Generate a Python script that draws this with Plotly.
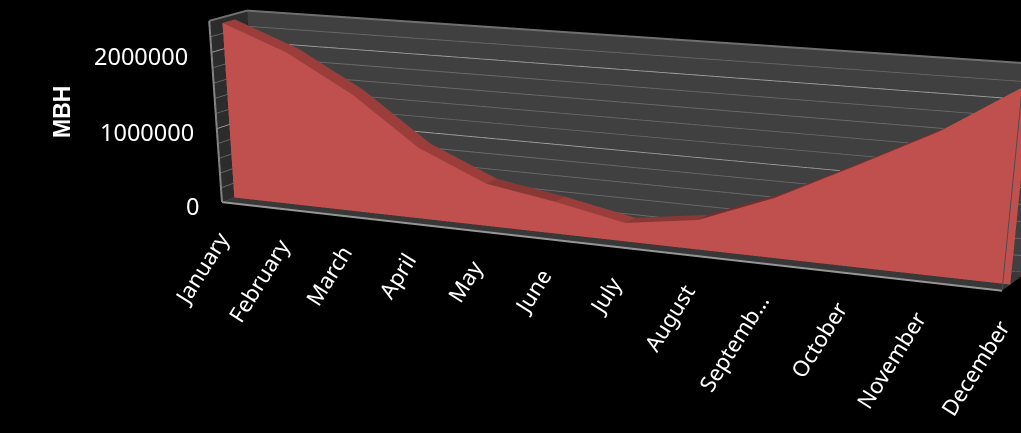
import plotly.graph_objects as go

# Monthly load, drawn as a 3-D area ribbon over Jan-Dec.
months = ["January", "February", "March", "April", "May", "June", "July",
          "August", "Septemb…", "October", "November", "December"]
mbh = [2330000, 2010000, 1540000, 925000, 550000, 410000, 235000,
       370000, 735000, 1205000, 1690000, 2300000]
value_ticks = [0, 1000000, 2000000]
axis_max = 2400000
grid_step = 200000

# Depth layout of the plot box: the ribbon sits in the middle third.
RIBBON_FRONT, RIBBON_BACK = 1 / 3, 2 / 3
last = len(months) - 1

# An oversized scene gives a long-lens view with an off-centre optical axis;
# the page is slid left by PAGE_SHIFT and the window shows the part it needs.
SCENE_W, SCENE_H = 1204, 1918
PAGE_SHIFT = 183

fig = go.Figure()
FLAT = dict(ambient=1, diffuse=0, specular=0, fresnel=0, roughness=1)


def panel(xs, ys, zs, color):
    fig.add_trace(go.Mesh3d(
        x=xs, y=ys, z=zs, i=[0, 0], j=[1, 2], k=[2, 3], color=color,
        flatshading=True, hoverinfo="skip", lighting=FLAT))


def segment(xs, ys, zs, color, width):
    fig.add_trace(go.Scatter3d(
        x=xs, y=ys, z=zs, mode="lines", hoverinfo="skip", showlegend=False,
        line=dict(color=color, width=width)))


# Walls and floor of the plot box
panel([0, last, last, 0], [1, 1, 1, 1], [0, 0, axis_max, axis_max], "#404040")
panel([0, 0, 0, 0], [0, 1, 1, 0], [0, 0, axis_max, axis_max], "#2c2c2c")
panel([0, last, last, 0], [0, 0, 1, 1], [0, 0, 0, 0], "#383838")

# Value gridlines along the back and side walls; whole millions are brighter
for level in range(0, axis_max + 1, grid_step):
    color = "#a8a8a8" if level in value_ticks else "#6c6c6c"
    segment([0, 0, last], [0, 1, 1], [level] * 3, color, 3)

# Frame edges
segment([0, 0], [0, 0], [0, axis_max], "#858585", 4)
segment([0, last], [0, 0], [0, 0], "#959595", 4)
segment([0, 0], [0, 1], [axis_max, axis_max], "#6f6f6f", 4)
segment([0, last], [1, 1], [axis_max, axis_max], "#6f6f6f", 4)
segment([0, 0], [0, 1], [0, 0], "#6f6f6f", 3)
segment([last, last], [0, 0], [0, axis_max], "#4d4d4d", 2)

# Ribbon: front face plus the sloped top strip
n = len(months)
tri_i, tri_j, tri_k, strip_colors = [], [], [], []
for m in range(n - 1):
    tri_i += [m, m + 1]
    tri_j += [m + 1, n + m + 1]
    tri_k += [n + m, n + m]
    change = mbh[m + 1] - mbh[m]
    shade = "#9A3D3B" if change < -150000 else "#8A3836" if change < 150000 else "#752F2F"
    strip_colors += [shade, shade]

fig.add_trace(go.Mesh3d(
    x=list(range(n)) * 2, y=[RIBBON_FRONT] * (2 * n), z=[0] * n + mbh,
    i=tri_i, j=tri_j, k=tri_k,
    color="#C0504D", flatshading=True, hoverinfo="skip", lighting=FLAT))
fig.add_trace(go.Mesh3d(
    x=list(range(n)) * 2, y=[RIBBON_FRONT] * n + [RIBBON_BACK] * n, z=mbh + mbh,
    i=tri_i, j=tri_j, k=tri_k,
    facecolor=strip_colors, flatshading=True, hoverinfo="skip", lighting=FLAT))

month_font = dict(family="Noto Sans", size=22, color="#FFFFFF")
value_font = dict(family="Noto Sans", size=23.5, color="#FFFFFF")
notes = []
for m, name in enumerate(months):
    notes.append(dict(x=m, y=0, z=0, text=name, textangle=-58, showarrow=False,
                      xanchor="right", yanchor="top", xshift=16, yshift=-21,
                      font=month_font))
for value in value_ticks:
    notes.append(dict(x=0, y=0, z=value, text=str(value), showarrow=False,
                      xanchor="right", yanchor="middle", xshift=-21, yshift=-4,
                      font=value_font))

hidden = dict(visible=False, showspikes=False)
fig.update_layout(
    width=SCENE_W, height=SCENE_H, autosize=False,
    margin=dict(l=0, r=0, t=0, b=0),
    paper_bgcolor="#000000", plot_bgcolor="#000000", showlegend=False,
    annotations=[dict(text="<b>MBH</b>", xref="paper", yref="paper",
                      x=(62 + PAGE_SHIFT) / SCENE_W, y=1 - 112 / SCENE_H,
                      xanchor="center", yanchor="middle",
                      textangle=-90, showarrow=False,
                      font=dict(family="Liberation Sans", size=23, color="#FFFFFF"))],
    scene=dict(
        domain=dict(x=[0, 1], y=[0, 1]),
        bgcolor="#000000",
        dragmode="orbit",
        aspectmode="manual", aspectratio=dict(x=2.0, y=0.1602, z=0.4241),
        xaxis=dict(range=[0, last], **hidden),
        yaxis=dict(range=[0, 1], **hidden),
        zaxis=dict(range=[0, axis_max], **hidden),
        camera=dict(eye=dict(x=2.4868, y=-4.9004, z=1.1101),
                    center=dict(x=-0.106, y=-0.7112, z=-1.827),
                    up=dict(x=0.03339, y=0, z=0.99944),
                    projection=dict(type="perspective")),
        annotations=notes,
    ),
)

fig.write_html(
    "out.html",
    post_script="document.documentElement.style.overflow='hidden';"
                "document.body.style.overflow='hidden';"
                "document.getElementById('{plot_id}').style.marginLeft='-%dpx';" % PAGE_SHIFT)
